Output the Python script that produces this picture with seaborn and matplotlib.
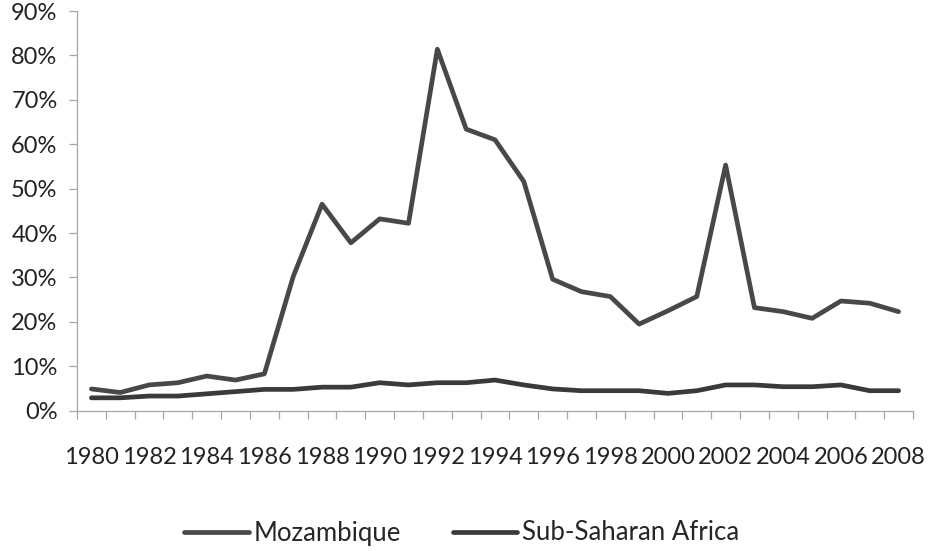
import numpy as np
import pandas as pd
import seaborn as sns
import matplotlib.pyplot as plt
from matplotlib.ticker import FixedLocator, PercentFormatter

years = list(range(1980, 2009))
mozambique = [4.9, 4.1, 5.8, 6.3, 7.8, 6.9, 8.3, 30.2, 46.5, 37.8, 43.2, 42.2, 81.4, 63.4,
              61.0, 51.6, 29.6, 26.8, 25.7, 19.5, 22.5, 25.7, 55.3, 23.2, 22.3, 20.8, 24.7,
              24.2, 22.3]
ssa = [2.9, 2.9, 3.3, 3.3, 3.8, 4.3, 4.8, 4.8, 5.3, 5.3, 6.3, 5.8, 6.3, 6.3,
       6.9, 5.8, 4.9, 4.5, 4.5, 4.5, 3.9, 4.5, 5.8, 5.8, 5.4, 5.4, 5.8, 4.5, 4.5]
series_names = ["Mozambique", "Sub-Saharan Africa"]

df = pd.DataFrame({
    "pos": list(range(len(years))) * 2,
    "value": mozambique + ssa,
    "series": [series_names[0]] * len(years) + [series_names[1]] * len(years),
})

sns.set_style("white")
plt.rcParams['font.family'] = ['Lato', 'DejaVu Sans']

fig, ax = plt.subplots(figsize=(9.29, 5.51), dpi=100)
fig.subplots_adjust(left=77/929, right=913/929, top=1-11/551, bottom=1-410.7/551)

sns.lineplot(data=df, x="pos", y="value", hue="series",
             palette=["#484848", "#3a3a3a"], linewidth=3.4, ax=ax,
             solid_capstyle="round")

ax.set_xlim(-0.5, len(years) - 0.5)
ax.set_ylim(0, 90)
ax.set_yticks(np.arange(0, 91, 10))
ax.yaxis.set_major_formatter(PercentFormatter(decimals=0))

# every other year labelled, tick marks between categories
ax.set_xticks(range(0, len(years), 2))
ax.set_xticklabels([str(y) for y in years[::2]])
ax.xaxis.set_minor_locator(FixedLocator(np.arange(-0.5, len(years), 1)))

ax.tick_params(axis="x", which="major", length=0, pad=26, labelsize=17, colors="#222222")
ax.tick_params(axis="x", which="minor", length=6, width=0.9, color="#a6a6a6", direction="out", bottom=True)
ax.tick_params(axis="y", length=6, width=0.9, color="#a6a6a6", direction="out", left=True,
               pad=8, labelsize=17, labelcolor="#222222")

ax.set_xlabel("")
ax.set_ylabel("")
sns.despine(ax=ax)
for side in ["left", "bottom"]:
    ax.spines[side].set_color("#a6a6a6")
    ax.spines[side].set_linewidth(0.9)

handles, labels = ax.get_legend_handles_labels()
leg = ax.legend(handles, labels, loc="center", bbox_to_anchor=(0.497, 1 - 533/551),
                bbox_transform=fig.transFigure, ncol=2, frameon=False, fontsize=18.5,
                handlelength=2.5, handletextpad=0.2, columnspacing=2.0)

fig.savefig("out.png", dpi=100)
